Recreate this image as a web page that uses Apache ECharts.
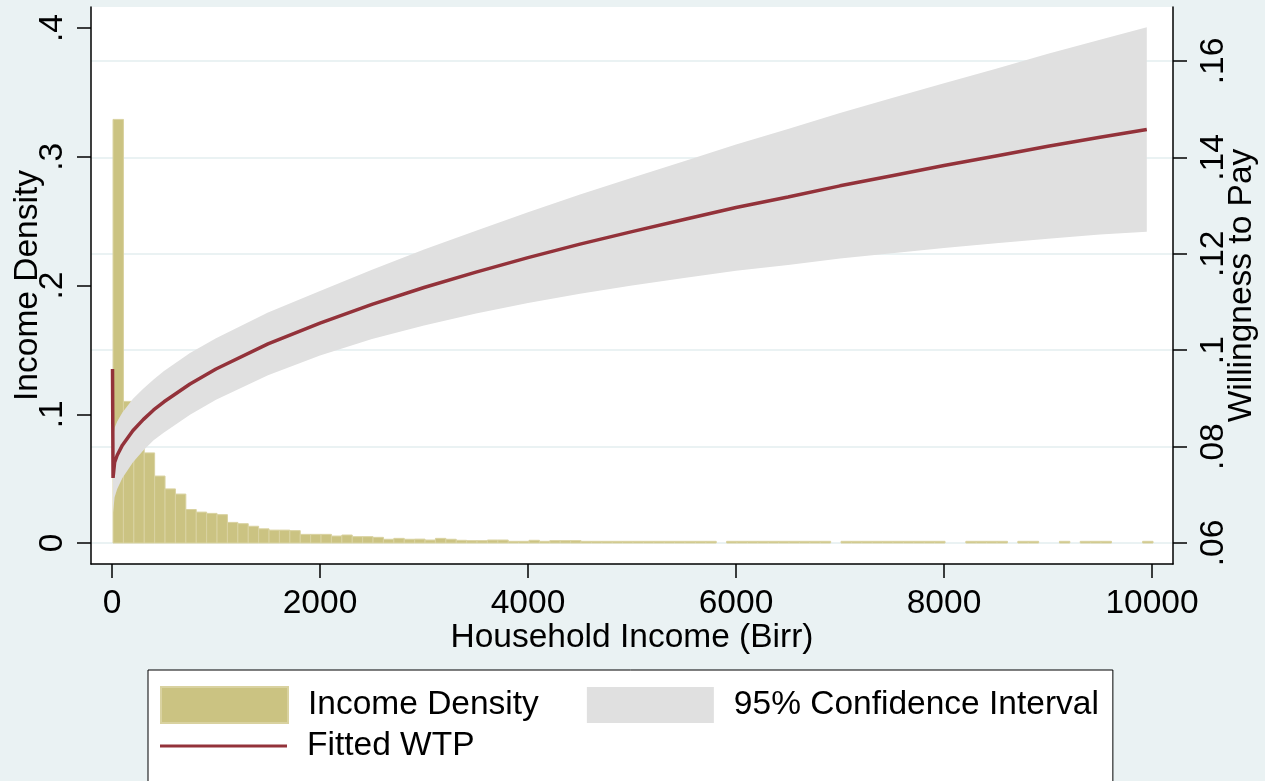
<!DOCTYPE html>
<html>
<head>
<meta charset="utf-8">
<script src="https://cdn.jsdelivr.net/npm/echarts@6/dist/echarts.min.js"></script>
<style>
html,body{margin:0;padding:0;background:#eaf2f3;}
#chart{width:1265px;height:781px;}
</style>
</head>
<body>
<div id="chart"></div>
<script>
// ---------------- data ----------------
const binWidth = 100;
const incomeBinStart = [
  10,110,210,310,410,510,610,710,810,910,
  1010,1110,1210,1310,1410,1510,1610,1710,1810,1910,
  2010,2110,2210,2310,2410,2510,2610,2710,2810,2910,
  3010,3110,3210,3310,3410,3510,3610,3710,3810,3910,
  4010,4110,4210,4310,4410,4510,4610,4710,4810,4910,
  5010,5110,5210,5310,5410,5510,5610,5710,5810,5910,
  6010,6110,6210,6310,6410,6510,6610,6710,6810,6910,
  7010,7110,7210,7310,7410,7510,7610,7710,7810,7910,
  8010,8110,8210,8310,8410,8510,8610,8710,8810,8910,
  9010,9110,9210,9310,9410,9510,9610,9710,9810,9910
];
const incomeDensity = [
  0.329,0.110,0.085,0.070,0.052,0.042,0.038,0.026,0.024,0.023,
  0.022,0.016,0.015,0.013,0.011,0.010,0.010,0.0096,0.0067,0.0067,
  0.0067,0.0054,0.0062,0.0049,0.0049,0.0044,0.0029,0.0036,0.0029,0.0030,
  0.0023,0.0036,0.0029,0.0021,0.0018,0.0018,0.0023,0.0023,0.0013,0.0013,
  0.0021,0.0013,0.0018,0.0018,0.0018,0.0013,0.0013,0.0013,0.0013,0.0013,
  0.0013,0.0013,0.0013,0.0013,0.0013,0.0013,0.0013,0.0013,0,0.0013,
  0.0013,0.0013,0.0013,0.0013,0.0013,0.0013,0.0013,0.0013,0.0013,0,
  0.0013,0.0013,0.0013,0.0013,0.0013,0.0013,0.0013,0.0013,0.0013,0.0013,
  0,0,0.0013,0.0013,0.0013,0.0013,0,0.0013,0.0013,0,
  0,0.0013,0,0.0013,0.0013,0.0013,0,0,0,0.0013
];

const wtpIncome = [5,10,25,50,100,200,300,400,500,750,1000,1500,2000,2500,3000,3500,4000,4500,5000,5500,6000,6500,7000,7500,8000,8500,9000,9500,9950];
const wtpFitted = [0.0961,0.0735,0.0767,0.0782,0.0803,0.0833,0.0856,0.0876,0.0893,0.0930,0.0961,0.1013,0.1056,0.1095,0.1130,0.1162,0.1192,0.1220,0.1246,0.1271,0.1296,0.1318,0.1341,0.1362,0.1383,0.1403,0.1423,0.1442,0.1458];
const wtpUpper  = [0.1048,0.0813,0.0839,0.0852,0.0871,0.0899,0.0920,0.0939,0.0957,0.0994,0.1025,0.1078,0.1123,0.1167,0.1209,0.1248,0.1286,0.1323,0.1358,0.1392,0.1427,0.1459,0.1492,0.1523,0.1554,0.1584,0.1615,0.1644,0.1670];
const wtpLower  = [0.0874,0.0663,0.0695,0.0712,0.0735,0.0767,0.0792,0.0813,0.0829,0.0866,0.0897,0.0948,0.0989,0.1023,0.1051,0.1076,0.1098,0.1117,0.1134,0.1150,0.1165,0.1177,0.1190,0.1201,0.1212,0.1222,0.1231,0.1240,0.1246];

const xTickValues = [0,2000,4000,6000,8000,10000];
const xTickLabels = ['0','2000','4000','6000','8000','10000'];
const densTickValues = [0,0.1,0.2,0.3,0.4];
const densTickLabels = ['0','.1','.2','.3','.4'];
const wtpTickValues = [0.06,0.08,0.10,0.12,0.14,0.16];
const wtpTickLabels = ['.06','.08','.1','.12','.14','.16'];

// ---------------- chart ----------------
const FONT = "'Liberation Sans', Arial, Helvetica, sans-serif";
const FS = 33.5;
const C_BAR = '#cbc382', C_BAR_EDGE = '#d9d2a0', C_CI = '#e0e0e0', C_FIT = '#93323a', C_GRID = '#eaf2f3';

function labeler(values, labels) {
  return function (v) {
    let best = 0;
    for (let i = 1; i < values.length; i++) {
      if (Math.abs(values[i] - v) < Math.abs(values[best] - v)) best = i;
    }
    return labels[best];
  };
}

const histData = incomeBinStart.map((s, i) => [s, incomeDensity[i]]);
const fitData = wtpIncome.map((x, i) => [x, wtpFitted[i]]);
const bandData = wtpIncome.map((x, i) => [x, wtpLower[i], wtpUpper[i]]);

const axisLineStyle = { color: '#000', width: 1.5 };
const txt = { fontSize: FS, color: '#000', fontFamily: FONT };

const chart = echarts.init(document.getElementById('chart'), null, { renderer: 'canvas' });
chart.setOption({
  animation: false,
  backgroundColor: '#eaf2f3',
  textStyle: { fontFamily: FONT },
  grid: {
    left: 91, right: 92, top: 7, bottom: 217,
    show: true, backgroundColor: '#ffffff', borderWidth: 0,
    outerBoundsMode: 'none', containLabel: false
  },
  legend: [
    {
      data: [
        { name: 'Income Density', icon: 'rect', itemStyle: { color: C_BAR, borderColor: C_BAR_EDGE, borderWidth: 2 } },
        { name: '95% Confidence Interval', icon: 'rect', itemStyle: { color: C_CI, borderWidth: 0 } }
      ],
      left: 148, top: 670,
      orient: 'horizontal',
      padding: [16, 14, 80, 12],
      itemWidth: 127, itemHeight: 36, itemGap: 48,
      backgroundColor: '#ffffff', borderColor: '#000', borderWidth: 1,
      selectedMode: false,
      textStyle: Object.assign({ padding: [5, 0, 0, 15] }, txt)
    },
    {
      data: [{ name: 'Fitted WTP', icon: 'rect', itemStyle: { color: C_FIT, borderWidth: 0 } }],
      left: 160, top: 729, z: 10,
      padding: 0,
      itemWidth: 127, itemHeight: 3,
      selectedMode: false,
      textStyle: Object.assign({ padding: [5, 0, 0, 15] }, txt)
    }
  ],
  xAxis: {
    type: 'value', min: -201.9, max: 10201.9,
    name: 'Household Income (Birr)', nameLocation: 'middle', nameGap: 57,
    nameTextStyle: txt,
    nameMoveOverlap: false,
    axisLine: { show: true, onZero: false, lineStyle: axisLineStyle },
    axisTick: { show: true, length: 14, inside: false, customValues: xTickValues, lineStyle: axisLineStyle },
    axisLabel: Object.assign({ customValues: xTickValues, formatter: labeler(xTickValues, xTickLabels), margin: 23 }, txt),
    splitLine: { show: false }
  },
  yAxis: [
    {
      type: 'value', position: 'left', min: -0.01631, max: 0.41631,
      name: 'Income Density', nameLocation: 'middle', nameRotate: 90, nameGap: 46,
      nameTextStyle: txt,
      nameMoveOverlap: false,
      axisLine: { show: true, onZero: false, lineStyle: axisLineStyle },
      axisTick: { show: true, length: 14, inside: false, customValues: densTickValues, lineStyle: axisLineStyle },
      axisLabel: Object.assign({ customValues: densTickValues, formatter: labeler(densTickValues, densTickLabels), rotate: 90, margin: 21 }, txt),
      splitLine: { show: false }
    },
    {
      type: 'value', position: 'right', min: 0.055643, max: 0.171203,
      name: 'Willingness to Pay', nameLocation: 'middle', nameRotate: 90, nameGap: 52,
      nameTextStyle: txt,
      nameMoveOverlap: false,
      axisLine: { show: true, onZero: false, lineStyle: axisLineStyle },
      axisTick: { show: true, length: 14, inside: false, customValues: wtpTickValues, lineStyle: axisLineStyle },
      axisLabel: Object.assign({ customValues: wtpTickValues, formatter: labeler(wtpTickValues, wtpTickLabels), rotate: 90, margin: 24 }, txt),
      splitLine: { show: true, lineStyle: { color: C_GRID, width: 2 } }
    }
  ],
  series: [
    {
      name: 'Income Density',
      type: 'custom',
      xAxisIndex: 0, yAxisIndex: 0,
      data: histData,
      encode: { x: 0, y: 1 },
      itemStyle: { color: C_BAR, borderColor: C_BAR_EDGE, borderWidth: 2 },
      renderItem: function (params, api) {
        const start = api.value(0), h = api.value(1);
        if (!h) return null;
        const p0 = api.coord([start, 0]);
        const p1 = api.coord([start + binWidth, h]);
        return {
          type: 'rect',
          shape: { x: p0[0], y: p1[1], width: p1[0] - p0[0], height: p0[1] - p1[1] },
          style: { fill: C_BAR, stroke: C_BAR_EDGE, lineWidth: 1 }
        };
      },
      z: 2, silent: true
    },
    {
      name: '95% Confidence Interval',
      type: 'custom',
      xAxisIndex: 0, yAxisIndex: 1,
      data: bandData,
      encode: { x: 0, y: [1, 2] },
      itemStyle: { color: C_CI },
      renderItem: function (params, api) {
        if (params.dataIndexInside !== 0) return null;
        const pts = [];
        for (let i = 0; i < bandData.length; i++) pts.push(api.coord([bandData[i][0], bandData[i][2]]));
        for (let i = bandData.length - 1; i >= 0; i--) pts.push(api.coord([bandData[i][0], bandData[i][1]]));
        return { type: 'polygon', shape: { points: pts }, style: { fill: C_CI, stroke: null } };
      },
      z: 3, silent: true
    },
    {
      name: 'Fitted WTP',
      type: 'line', yAxisIndex: 1,
      data: fitData,
      symbol: 'none',
      lineStyle: { color: C_FIT, width: 3.5 },
      itemStyle: { color: C_FIT },
      z: 4, silent: true
    }
  ]
});
</script>
</body>
</html>
